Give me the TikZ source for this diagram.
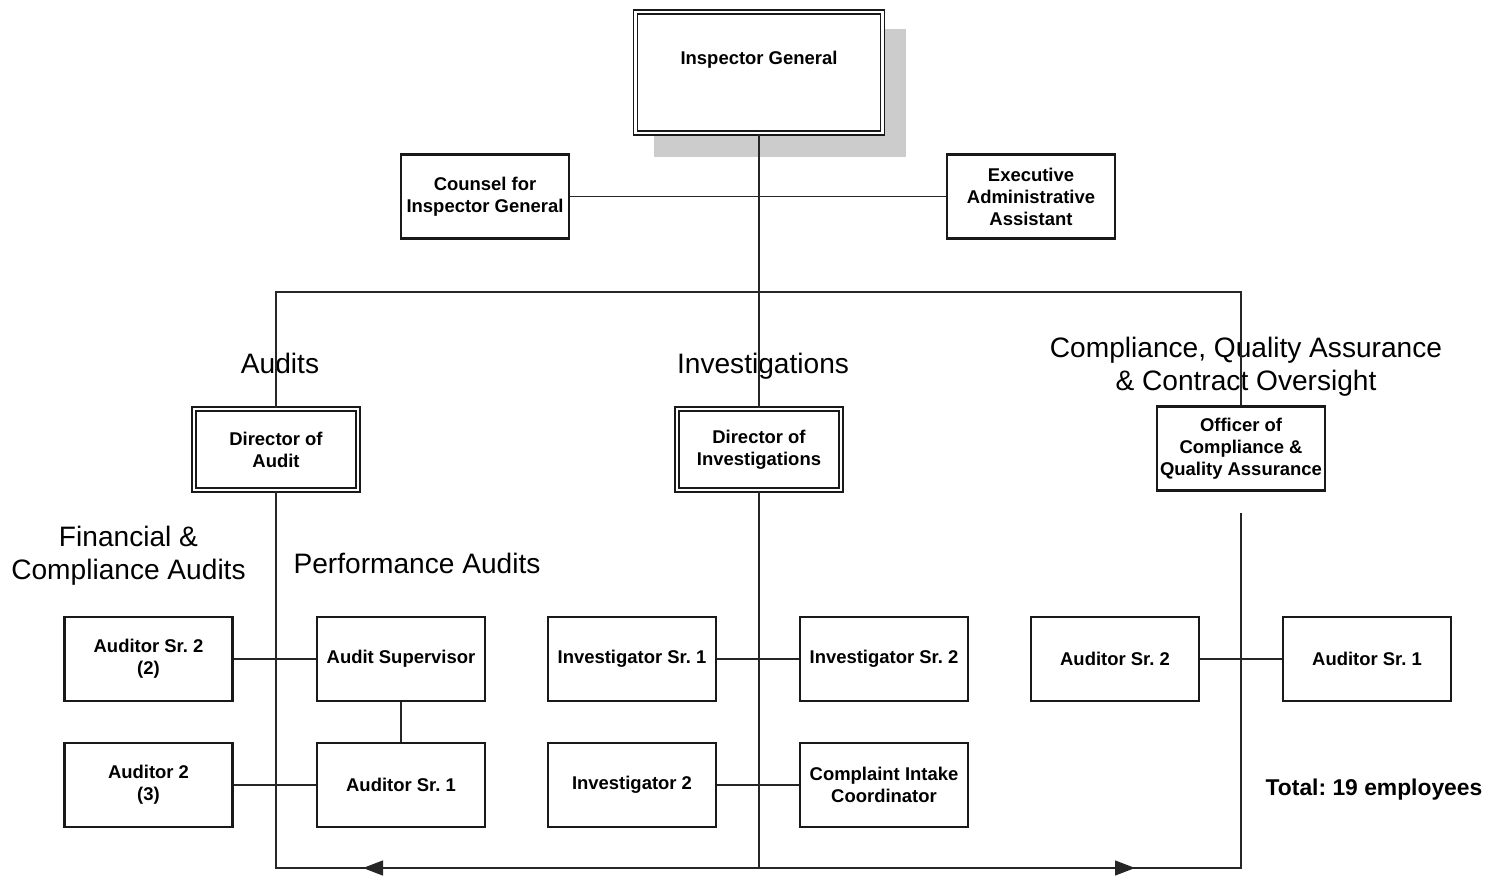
\documentclass[tikz,border=0pt]{standalone}
\usepackage{fontspec}
\setmainfont{Liberation Sans}
\usetikzlibrary{arrows.meta}
\frenchspacing

\begin{document}
\begin{tikzpicture}[x=0.02cm, y=-0.02cm,
	box/.style={draw=black!90, fill=white, line width=1.35pt, minimum width=3.36cm, minimum height=1.68cm, inner sep=1pt, align=center, font=\bfseries\fontsize{10.5}{12.5}\selectfont},
	dbox/.style={box, line width=0.65pt, double, double distance=1.6pt, minimum width=3.28cm, minimum height=1.62cm},
	head/.style={align=center, font=\fontsize{16}{18.7}\selectfont},
	link/.style={draw=black!85, line width=0.7pt},
	tip/.style={-{Triangle[length=0.4cm, width=0.3cm]}}]
			\useasboundingbox (0,0) rectangle (1493,878);
			\fill[black!20] (654,29) rectangle (906,157);
			\node[dbox, minimum width=4.94cm, minimum height=2.42cm, text height=0.3cm, text depth=0.6cm] (ig) at (759,72.5) {Inspector General};
			\node[box] (counsel) at (485,196.5) {Counsel for\\Inspector General};
			\node[box] (exec) at (1031,196.5) {Executive\\Administrative\\Assistant};
			\node[dbox] (dira) at (276,449.5) {Director of\\Audit};
			\node[dbox] (diri) at (759,449.5) {Director of\\Investigations};
			\node[box, inner sep=0pt] (officer) at (1241,448.5) {Officer of\\Compliance \&\\Quality Assurance};
			\node[box] (fin1) at (148.5,659) {Auditor Sr. 2\\(2)};
			\node[box] (fin2) at (148.5,785) {Auditor 2\\(3)};
			\node[box] (perf1) at (401,659) {Audit Supervisor};
			\node[box] (perf2) at (401,785) {Auditor Sr. 1};
			\node[box] (inv1) at (632,659) {Investigator Sr. 1};
			\node[box] (inv2) at (884,659) {Investigator Sr. 2};
			\node[box] (inv3) at (632,785) {Investigator 2};
			\node[box] (inv4) at (884,785) {Complaint Intake\\Coordinator};
			\node[box] (cq1) at (1115,659) {Auditor Sr. 2};
			\node[box] (cq2) at (1367,659) {Auditor Sr. 1};
			\node[head] (haud) at (280,363) {Audits};
			\node[head] (hinv) at (763,366) {Investigations};
			\node[head] (hcq) at (1246,366.5) {Compliance, Quality Assurance\\\& Contract Oversight};
			\node[head] (hfin) at (128.5,555.5) {Financial \&\\Compliance Audits};
			\node[head] (hperf) at (417,563) {Performance Audits};
			\node[font=\bfseries\fontsize{13}{15}\selectfont] (total) at (1374,790) {Total: 19 employees};
			\coordinate (barL) at (276,292);
			\coordinate (barR) at (1241,292);
			\coordinate (cqtop) at (1241,513);
			\coordinate (bc) at (759,868);
			\coordinate (ltip) at (363,868);
			\coordinate (rtip) at (1135,868);
			\draw[link] (ig.south) -- (diri.north);
			\draw[link] (counsel.east) -- (exec.west);
			\draw[link] (dira.north) -- (barL) -- (barR) -- (officer.north);
			\draw[link] (dira.south) |- (bc);
			\draw[link] (cqtop) |- (bc);
			\draw[link] (diri.south) -- (bc);
			\draw[link, tip] (bc) -- (ltip);
			\draw[link, tip] (bc) -- (rtip);
			\draw[link] (fin1) -- (perf1);
			\draw[link] (fin2) -- (perf2);
			\draw[link] (perf1) -- (perf2);
			\draw[link] (inv1) -- (inv2);
			\draw[link] (inv3) -- (inv4);
			\draw[link] (cq1) -- (cq2);
		\end{tikzpicture}
\end{document}
